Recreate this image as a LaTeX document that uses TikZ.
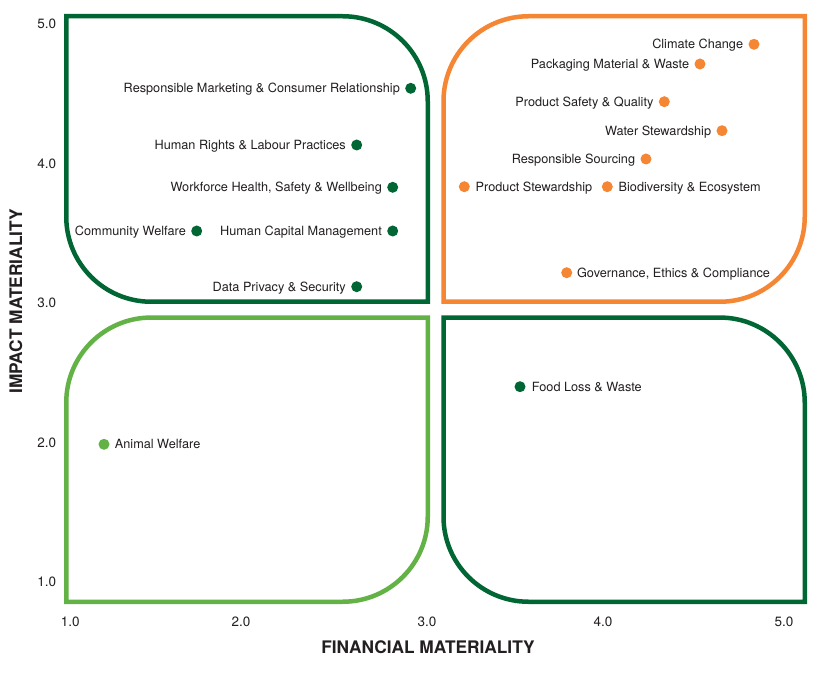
\documentclass[tikz,border=0pt]{standalone}
\usepackage{fontspec}
\setmainfont{TeX Gyre Heros}
\usetikzlibrary{positioning}
\definecolor{dgreen}{RGB}{0,102,51}
\definecolor{orng}{RGB}{244,134,52}
\definecolor{lgreen}{RGB}{98,178,70}
\definecolor{txt}{RGB}{35,31,32}
\tikzset{
  quad/.style={line width=4.5pt, line join=miter},
  dot/.style={circle, fill=#1, draw=none, minimum size=11pt, inner sep=0pt},
  lbl/.style={font=\fontsize{12.7}{15}\selectfont, text=txt, inner sep=0pt, text height=9.1pt, text depth=0pt},
  tick/.style={font=\fontsize{13.5}{16}\selectfont, text=txt, inner sep=0pt, text height=9.7pt, text depth=0pt},
  axtitle/.style={font=\fontsize{17.3}{20}\selectfont\bfseries, text=txt, inner sep=0pt, text height=12.4pt, text depth=0pt}
}
\begin{document}
\begin{tikzpicture}[x=1pt,y=1pt]
\fill[white] (0,0) rectangle (825,681);
\useasboundingbox (0,0) rectangle (825,681);

% quadrant frames
\draw[quad, dgreen] (66.25,664.75) -- (342.75,664.75) arc(90:0:85) -- (427.75,379.25) -- (151.25,379.25) arc(270:180:85) -- cycle;
\draw[quad, orng] (804.75,664.75) -- (804.75,464.25) arc(0:-90:85) -- (443.5,379.25) -- (443.5,579.75) arc(180:90:85) -- cycle;
\draw[quad, lgreen] (427.75,363.45) -- (427.75,164.25) arc(0:-90:85) -- (66.25,79.25) -- (66.25,278.45) arc(180:90:85) -- cycle;
\draw[quad, dgreen] (443.5,363.45) -- (719.75,363.45) arc(90:0:85) -- (804.75,79.25) -- (528.5,79.25) arc(270:180:85) -- cycle;

% axis ticks
\node[tick] (y5) at (46.7,657) {5.0};
\node[tick] (y4) at (46.7,517) {4.0};
\node[tick] (y3) at (46.7,378) {3.0};
\node[tick] (y2) at (46.7,238) {2.0};
\node[tick] (y1) at (46.7,99) {1.0};
\node[tick] (x1) at (70.3,59.3) {1.0};
\node[tick] (x2) at (241,59.3) {2.0};
\node[tick] (x3) at (427,59.3) {3.0};
\node[tick] (x4) at (603,59.3) {4.0};
\node[tick] (x5) at (784,59.3) {5.0};

% axis titles
\node[axtitle] (xt) at (428,34) {FINANCIAL MATERIALITY};
\node[axtitle, rotate=90] (yt) at (16,379.5) {IMPACT MATERIALITY};

% top-left quadrant
\node[dot=dgreen] (d1) at (410.7,592.7) {};
\node[lbl, left=5pt of d1] (l1) {Responsible Marketing \& Consumer Relationship};
\node[dot=dgreen] (d2) at (356.7,536) {};
\node[lbl, left=5pt of d2] (l2) {Human Rights \& Labour Practices};
\node[dot=dgreen] (d3) at (392.7,493.7) {};
\node[lbl, left=5pt of d3] (l3) {Workforce Health, Safety \& Wellbeing};
\node[dot=dgreen] (d4) at (196.7,450) {};
\node[lbl, left=5pt of d4] (l4) {Community Welfare};
\node[dot=dgreen] (d5) at (392.7,450) {};
\node[lbl, left=5pt of d5] (l5) {Human Capital Management};
\node[dot=dgreen] (d6) at (356.7,394.3) {};
\node[lbl, left=5pt of d6] (l6) {Data Privacy \& Security};

% top-right quadrant
\node[dot=orng] (d7) at (754,636.7) {};
\node[lbl, left=5pt of d7] (l7) {Climate Change};
\node[dot=orng] (d8) at (700,617) {};
\node[lbl, left=5pt of d8] (l8) {Packaging Material \& Waste};
\node[dot=orng] (d9) at (664.3,579.3) {};
\node[lbl, left=5pt of d9] (l9) {Product Safety \& Quality};
\node[dot=orng] (d10) at (722,550.3) {};
\node[lbl, left=5pt of d10] (l10) {Water Stewardship};
\node[dot=orng] (d11) at (646,522) {};
\node[lbl, left=5pt of d11] (l11) {Responsible Sourcing};
\node[dot=orng] (d12) at (464.3,494.3) {};
\node[lbl, right=5.5pt of d12] (l12) {Product Stewardship};
\node[dot=orng] (d13) at (607.3,494.3) {};
\node[lbl, right=5.5pt of d13] (l13) {Biodiversity \& Ecosystem};
\node[dot=orng] (d14) at (566.7,408.3) {};
\node[lbl, right=4.5pt of d14] (l14) {Governance, Ethics \& Compliance};

% bottom-left quadrant
\node[dot=lgreen] (d15) at (104,236.7) {};
\node[lbl, right=5pt of d15] (l15) {Animal Welfare};

% bottom-right quadrant
\node[dot=dgreen] (d16) at (520,294.3) {};
\node[lbl, right=6pt of d16] (l16) {Food Loss \& Waste};
\end{tikzpicture}
\end{document}
